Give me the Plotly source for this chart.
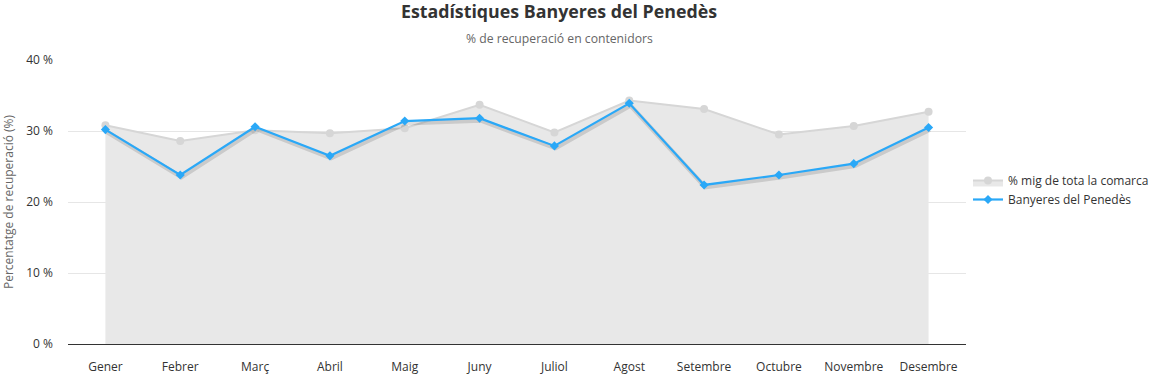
import plotly.graph_objects as go

months = ["Gener", "Febrer", "Març", "Abril", "Maig", "Juny", "Juliol",
          "Agost", "Setembre", "Octubre", "Novembre", "Desembre"]
comarca = [30.8, 28.6, 30.1, 29.7, 30.4, 33.7, 29.8, 34.3, 33.1, 29.5, 30.7, 32.7]
banyeres = [30.2, 23.8, 30.6, 26.5, 31.4, 31.8, 27.9, 33.9, 22.4, 23.8, 25.4, 30.5]
y_ticks = [0, 10, 20, 30, 40]
y_tick_labels = ["0 %", "10 %", "20 %", "30 %", "40 %"]

FONT = "Open Sans, Segoe UI, sans-serif"
W, H = 1158, 376
L, R, T, B = 68, 192, 60, 32
PH = H - T - B
PW = W - L - R
TITLE_X = (559 - L) / PW

fig = go.Figure()
fig.add_trace(go.Scatter(
    x=months, y=comarca, name="% mig de tota la comarca",
    mode="lines+markers", fill="tozeroy", fillcolor="#e8e8e8",
    line=dict(color="#d6d6d6", width=2),
    marker=dict(symbol="circle", size=8, color="#d6d6d6"),
))
# soft drop shadow for the blue line (same data on a slightly shifted overlay axis)
fig.add_trace(go.Scatter(
    x=months, y=banyeres, xaxis="x2", yaxis="y2", showlegend=False, hoverinfo="skip",
    mode="lines", line=dict(color="rgba(0,0,0,0.13)", width=4.5),
))
fig.add_trace(go.Scatter(
    x=months, y=banyeres, name="Banyeres del Penedès", xaxis="x3", yaxis="y3",
    mode="lines+markers",
    line=dict(color="#2aa8f7", width=2.2),
    marker=dict(symbol="diamond", size=7, color="#2aa8f7"),
))

dy = 2.2 * 40 / PH
dx = 1.2 * 12 / PW
fig.update_layout(
    width=W, height=H,
    paper_bgcolor="white", plot_bgcolor="white",
    margin=dict(l=L, r=R, t=T, b=B, autoexpand=False),
    font=dict(family=FONT, size=12, color="#333333"),
    title=dict(text="<b>Estadístiques Banyeres del Penedès</b>", x=TITLE_X, xref="paper",
               xanchor="center",
               y=1 - 12 / H, yanchor="middle", font=dict(size=17.8, color="#333333")),
    annotations=[dict(text="% de recuperació en contenidors", x=TITLE_X, xref="paper",
                      xanchor="center",
                      y=(H - 38 - B) / PH, yref="paper", yanchor="middle",
                      showarrow=False, font=dict(size=12.2, color="#666666"))],
    legend=dict(x=(968 - L) / PW, xanchor="left", y=(H - B - 190) / PH, yanchor="middle",
                font=dict(size=12, color="#333333"), bgcolor="rgba(0,0,0,0)",
                itemwidth=30, tracegroupgap=2),
    showlegend=True,
    xaxis=dict(showgrid=False, showline=True, linecolor="#333333", linewidth=1,
               ticks="", ticklabelstandoff=12, automargin=False,
               tickfont=dict(size=12, color="#333333"), range=[-0.5, 11.5]),
    yaxis=dict(range=[0, 40], tickvals=y_ticks, ticktext=y_tick_labels,
               showgrid=True, gridcolor="#e6e6e6", zeroline=False, automargin=False,
               ticklabelstandoff=14,
               tickfont=dict(size=12, color="#333333"),
               title=dict(text="Percentatge de recuperació (%)",
                          font=dict(size=12, color="#666666"))),
    xaxis2=dict(overlaying="x", range=[-0.5 - dx, 11.5 - dx], visible=False),
    yaxis2=dict(overlaying="y", range=[dy, 40 + dy], visible=False),
    xaxis3=dict(overlaying="x", range=[-0.5, 11.5], visible=False),
    yaxis3=dict(overlaying="y", range=[0, 40], visible=False),
)

fig.write_html("out.html", config={"displayModeBar": False},
               post_script="document.body.style.margin='0';")
